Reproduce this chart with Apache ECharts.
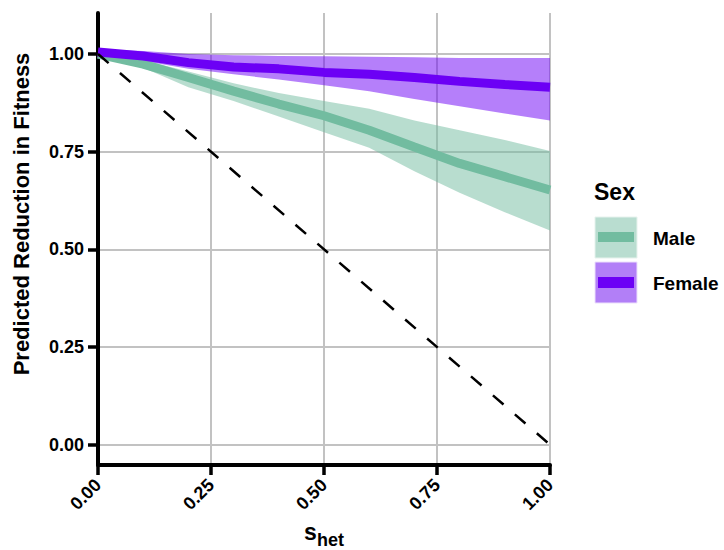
<!DOCTYPE html>
<html>
<head>
<meta charset="utf-8">
<script src="https://cdn.jsdelivr.net/npm/echarts@6/dist/echarts.min.js"></script>
<style>
html, body { margin: 0; padding: 0; background: #fff; }
#chart { width: 724px; height: 550px; }
</style>
</head>
<body>
<div id="chart"></div>
<script>
// s_het values and predicted reduction in fitness
var sHet = [0, 0.1, 0.2, 0.3, 0.4, 0.5, 0.6, 0.7, 0.8, 0.9, 1.0];
var maleMean  = [1.0, 0.974, 0.94, 0.905, 0.872, 0.842, 0.805, 0.762, 0.72, 0.686, 0.652];
var maleLower = [1.0, 0.965, 0.915, 0.88, 0.84, 0.80, 0.76, 0.70, 0.645, 0.595, 0.548];
var maleUpper = [1.0, 0.985, 0.955, 0.925, 0.90, 0.88, 0.86, 0.83, 0.805, 0.78, 0.752];
var femaleMean  = [1.005, 0.995, 0.978, 0.967, 0.962, 0.953, 0.948, 0.94, 0.93, 0.922, 0.915];
var femaleLower = [0.998, 0.982, 0.962, 0.948, 0.935, 0.92, 0.905, 0.885, 0.866, 0.848, 0.83];
var femaleUpper = [1.012, 1.008, 1.0, 0.997, 0.995, 0.994, 0.993, 0.992, 0.99, 0.99, 0.99];
// neutral expectation (dashed)
var neutralX = [0, 1];
var neutralY = [1, 0];
var yTicks = [0, 0.25, 0.5, 0.75, 1];

var FONT = 'Liberation Sans, Arial, sans-serif';
var MALE = '#72bca0';
var FEMALE = '#6c00f5';

function pairs(xs, ys) {
  return xs.map(function (x, i) { return [x, ys[i]]; });
}

// ribbon: one polygon from upper edge then lower edge back
function band(lower, upper, fill) {
  return {
    type: 'custom',
    silent: true,
    encode: { x: 0, y: [1, 2] },
    data: sHet.map(function (x, i) { return [x, lower[i], upper[i]]; }),
    renderItem: function (params, api) {
      if (params.dataIndexInside !== 0) return null;
      var n = params.dataInsideLength;
      var pts = [];
      for (var i = 0; i < n; i++) pts.push(api.coord([api.value(0, i), api.value(2, i)]));
      for (var j = n - 1; j >= 0; j--) pts.push(api.coord([api.value(0, j), api.value(1, j)]));
      return { type: 'polygon', shape: { points: pts }, style: { fill: fill } };
    }
  };
}

var chart = echarts.init(document.getElementById('chart'), null, { renderer: 'svg' });

var option = {
  animation: false,
  textStyle: { fontFamily: FONT },
  grid: { left: 98, right: 174, top: 13, bottom: 85, containLabel: false, outerBoundsMode: 'none' },
  xAxis: {
    type: 'value',
    min: 0,
    max: 1,
    interval: 0.25,
    name: '{s|s}{h|het}',
    nameLocation: 'middle',
    nameGap: 53,
    nameTextStyle: {
      lineHeight: 24,
      rich: {
        s: { fontSize: 23, lineHeight: 24, fontWeight: 'bold', color: '#000', fontFamily: FONT, padding: [0, 0, 6, 0], verticalAlign: 'bottom' },
        h: { fontSize: 18, lineHeight: 18, fontWeight: 'bold', color: '#000', fontFamily: FONT, verticalAlign: 'bottom' }
      }
    },
    axisLine: { onZero: false, lineStyle: { color: '#000', width: 4 } },
    axisTick: { show: true, length: 10, lineStyle: { color: '#000', width: 3.5 } },
    axisLabel: {
      rotate: 45,
      margin: 17,
      color: '#000',
      fontSize: 18,
      fontWeight: 'bold',
      fontFamily: FONT,
      formatter: function (v) { return v.toFixed(2); }
    },
    splitLine: { show: true, lineStyle: { color: '#c2c2c2', width: 2 } }
  },
  yAxis: {
    type: 'value',
    min: -0.052,
    max: 1.105,
    name: 'Predicted Reduction in Fitness',
    nameLocation: 'middle',
    nameGap: 66,
    nameTextStyle: { fontSize: 22, fontWeight: 'bold', color: '#000', fontFamily: FONT, padding: [0, 0, 0, 50] },
    axisLine: { onZero: false, lineStyle: { color: '#000', width: 4 } },
    axisTick: { show: true, length: 10, customValues: yTicks, lineStyle: { color: '#000', width: 3.5 } },
    axisLabel: {
      customValues: yTicks,
      margin: 14,
      color: '#000',
      fontSize: 18,
      fontWeight: 'bold',
      fontFamily: FONT,
      formatter: function (v) { return v.toFixed(2); }
    },
    splitLine: { show: true, lineStyle: { color: '#c2c2c2', width: 2 } }
  },
  series: [
    band(maleLower, maleUpper, 'rgba(114,188,160,0.5)'),
    band(femaleLower, femaleUpper, 'rgba(108,0,245,0.5)'),
    {
      name: 'Male',
      type: 'line',
      symbol: 'none',
      lineStyle: { color: MALE, width: 9 },
      data: pairs(sHet, maleMean)
    },
    {
      name: 'Female',
      type: 'line',
      symbol: 'none',
      lineStyle: { color: FEMALE, width: 9 },
      data: pairs(sHet, femaleMean)
    },
    {
      name: 'Neutral',
      type: 'line',
      symbol: 'none',
      lineStyle: { color: '#000', width: 2.5, type: [14, 15] },
      data: pairs(neutralX, neutralY)
    }
  ],
  // legend drawn by hand to mimic the ggplot key
  graphic: [
    { type: 'text', style: { x: 594, y: 192, text: 'Sex', font: 'bold 23px ' + FONT, fill: '#000', verticalAlign: 'middle' } },
    { type: 'rect', shape: { x: 595, y: 217, width: 42, height: 41 }, style: { fill: '#b9ddd0', stroke: '#e6f2ed', lineWidth: 1 } },
    { type: 'rect', shape: { x: 598, y: 232, width: 36, height: 10 }, style: { fill: MALE } },
    { type: 'rect', shape: { x: 595, y: 262, width: 42, height: 41 }, style: { fill: '#b27ff7', stroke: '#ece0fc', lineWidth: 1 } },
    { type: 'rect', shape: { x: 598, y: 277, width: 36, height: 11 }, style: { fill: FEMALE } },
    { type: 'text', style: { x: 653, y: 238, text: 'Male', font: 'bold 19px ' + FONT, fill: '#000', verticalAlign: 'middle' } },
    { type: 'text', style: { x: 653, y: 283, text: 'Female', font: 'bold 19px ' + FONT, fill: '#000', verticalAlign: 'middle' } }
  ]
};

chart.setOption(option);
</script>
</body>
</html>
